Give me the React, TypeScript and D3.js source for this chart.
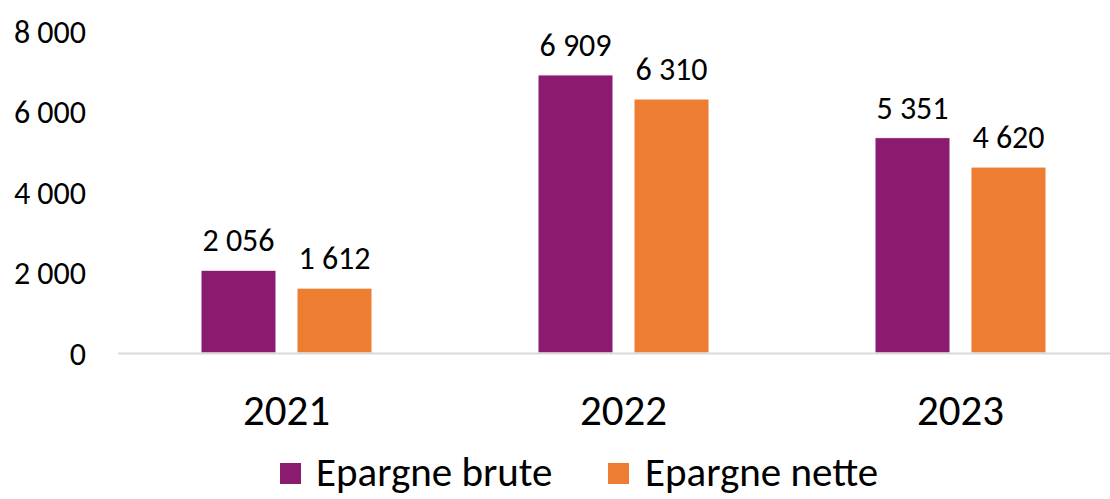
import React from 'react';
import * as d3 from 'd3';

const years = ['2021', '2022', '2023'];
const seriesNames = ['Epargne brute', 'Epargne nette'];
const brute = [2056, 6909, 5351];
const nette = [1612, 6310, 4620];
const yTicks = [0, 2000, 4000, 6000, 8000];
const colors = ['#8A1B6E', '#ED7D31'];

const W = 1110;
const H = 499;
const FONT = "Carlito, Calibri, Lato, 'Open Sans', sans-serif";

// French-style thousands separator (space)
const fmt = (v: number) => d3.format(',')(v).replace(/,/g, ' ');

const App = () => {
  const y = d3.scaleLinear().domain([0, 8000]).range([353, 31]);
  const x0 = d3.scaleBand<string>().domain(years).range([118, 1129]).paddingInner(0).paddingOuter(0);
  const step = x0.bandwidth();
  const barW = 75;
  const gap = 21;
  const groupW = barW * 2 + gap;
  const x1 = d3.scaleBand<number>().domain([0, 1]).range([0, groupW]).paddingInner(gap / (barW + gap));

  const series = [brute, nette];

  return (
    <div style={{ position: 'absolute', left: 0, top: 0 }}>
      <svg width={W} height={H} style={{ display: 'block', background: '#fff' }} fontFamily={FONT}>
        {/* y tick labels */}
        {yTicks.map(t => (
          <text key={t} x={86} y={y(t)} dy="0.36em" textAnchor="end" fontSize={32} fill="#000">
            {fmt(t)}
          </text>
        ))}

        {/* bars */}
        {years.map((yr, i) => {
          const gx = (x0(yr) as number) + (step - groupW) / 2;
          return (
            <g key={yr} transform={`translate(${gx},0)`}>
              {series.map((vals, s) => {
                const bx = x1(s) as number;
                const bw = x1.bandwidth();
                return (
                  <g key={s}>
                    <rect x={bx} y={y(vals[i])} width={bw} height={y(0) - y(vals[i])}
                      fill={colors[s]} stroke="#fff" strokeWidth={1} />
                    <text x={bx + bw / 2} y={y(vals[i]) - 19} textAnchor="middle" fontSize={32} fill="#000">
                      {fmt(vals[i])}
                    </text>
                  </g>
                );
              })}
            </g>
          );
        })}

        {/* baseline */}
        <line x1={118} x2={W} y1={y(0) + 0.5} y2={y(0) + 0.5} stroke="#d9d9d9" strokeWidth={2} />

        {/* category labels */}
        {years.map(yr => (
          <text key={yr} x={(x0(yr) as number) + step / 2} y={425} textAnchor="middle" fontSize={43} fill="#000">
            {yr}
          </text>
        ))}

        {/* legend */}
        {[{ sx: 280, tx: 316 }, { sx: 608, tx: 645 }].map((l, s) => (
          <g key={s}>
            <rect x={l.sx} y={463} width={21} height={21} fill={colors[s]} />
            <text x={l.tx} y={486} fontSize={41} fill="#000">{seriesNames[s]}</text>
          </g>
        ))}
      </svg>
    </div>
  );
};

export default App;
